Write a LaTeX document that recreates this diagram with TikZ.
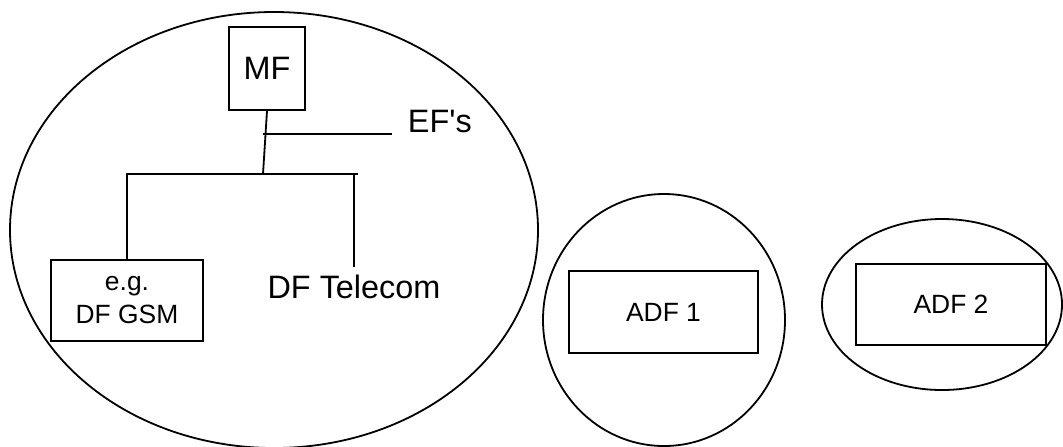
\documentclass[tikz,border=0pt]{standalone}
\usepackage{fontspec}
\setmainfont{Liberation Sans}
\begin{document}
\begin{tikzpicture}[x=0.5pt,y=-0.5pt,line width=0.9pt,
box/.style={draw,inner sep=0pt,align=center},
big/.style={font=\fontsize{16.2}{18}\selectfont},
small/.style={font=\fontsize{13.2}{16.5}\selectfont}]
\useasboundingbox (0,0) rectangle (1063,446);
% application areas
\draw (274,230) ellipse [x radius=264, y radius=218];
\draw (664,320) ellipse [x radius=121, y radius=126];
\draw (942,304.5) ellipse [x radius=120, y radius=85.5];
\node[box,big,minimum width=38pt,minimum height=41.5pt] (mf) at (267,68.5) {MF};
\node[box,small,minimum width=76pt,minimum height=40.5pt] (gsm) at (127,300.5) {e.g.\\DF GSM};
\node[box,small,minimum width=94.5pt,minimum height=41pt] (adf1) at (663.5,312) {ADF 1};
\node[box,small,minimum width=95pt,minimum height=40.5pt] (adf2) at (951,304.5) {ADF 2};
\node[big,anchor=base west,inner sep=0pt] (efs) at (407,132) {EF\textquotesingle s};
\node[big,anchor=base] (tel) at (354,298) {DF Telecom};
% tree below MF
\coordinate (hub) at (263,174);
\coordinate (efsstart) at (263,134);
\coordinate (efsend) at (392,134);
\coordinate (barend) at (358,174);
\draw (mf.south) -- (hub);
\draw (efsstart) -- (efsend);
\draw (gsm.north) -- (gsm.north |- hub) -- (barend);
\draw (tel.north |- hub) -- (tel.north);
\end{tikzpicture}
\end{document}
